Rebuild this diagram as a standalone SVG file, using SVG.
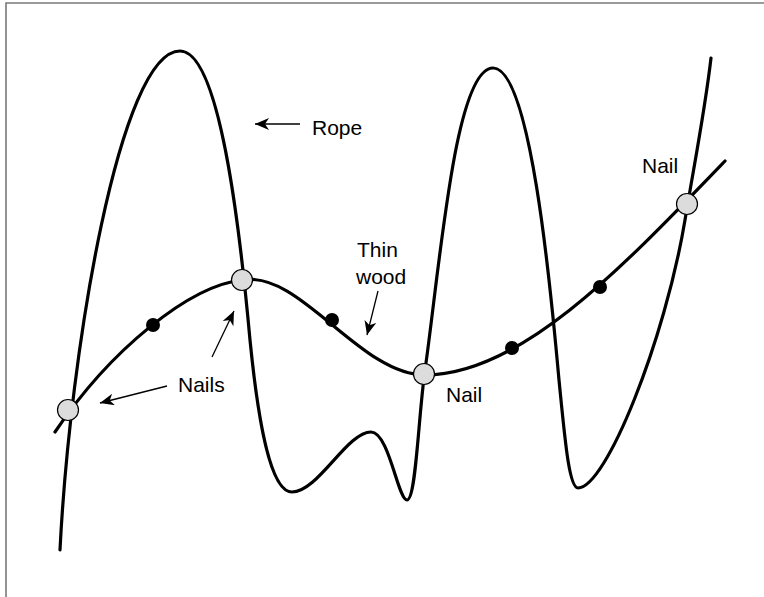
<svg xmlns="http://www.w3.org/2000/svg" width="764" height="597" viewBox="0 0 764 597">
<style>
.curve{fill:none;stroke:#000;stroke-width:3.2;stroke-linecap:round}
.ptr{fill:none;stroke:#000;stroke-width:1.3}
.nail{fill:#dcdcdc;stroke:#000;stroke-width:1.2}
.dot{fill:#000}
.lbl{font-family:"Liberation Sans",Arial,sans-serif;font-size:21px;fill:#000}
</style>
<defs>
<marker id="ah" markerWidth="16" markerHeight="12" refX="14" refY="6" orient="auto" markerUnits="userSpaceOnUse">
<path d="M14,6 L0,0 L4,6 L0,12 z" fill="#000"/>
</marker>
</defs>
<rect width="764" height="597" fill="#fff"/>
<path d="M6,597 L6,3 L764,3" fill="none" stroke="#7a7a7a" stroke-width="1.6"/>
<g id="connectors">
<path id="rope" class="curve" d="M60,550 C70,350 120,51 180,51 C220,51 240,230 250,340 C258,420 270,492 292,492 C318,492 347,432 371,432 C389,432 398,500 407,500 C416,500 418,420 425,370 C440,265 455,68 493,68 C530,68 550,280 559,380 C565,440 569,488 578,488 C606,488 665,340 685,220 C695,160 705,110 711,58"/>
<path id="wood" class="curve" d="M55,432 C110,350 190,285 243,280 C300,270 360,375 425,375 C520,375 620,270 725,161"/>
<line class="ptr" x1="300" y1="124" x2="255" y2="124" marker-end="url(#ah)"/>
<line class="ptr" x1="167" y1="386" x2="100" y2="403" marker-end="url(#ah)"/>
<line class="ptr" x1="212" y1="357" x2="234" y2="311" marker-end="url(#ah)"/>
<line class="ptr" x1="378" y1="291" x2="367" y2="335" marker-end="url(#ah)"/>
</g>
<g id="dots">
<circle class="dot" cx="153" cy="325" r="7"/>
<circle class="dot" cx="332" cy="320" r="7"/>
<circle class="dot" cx="512" cy="348" r="7"/>
<circle class="dot" cx="600" cy="287" r="7"/>
</g>
<g id="nail1"><circle class="nail" cx="68" cy="410" r="10.5"/></g>
<g id="nail2"><circle class="nail" cx="242" cy="280" r="10.5"/></g>
<g id="nail3"><circle class="nail" cx="424" cy="374" r="10.5"/></g>
<g id="nail4"><circle class="nail" cx="687" cy="204" r="10.5"/></g>
<g id="labels">
<text class="lbl" x="312" y="135">Rope</text>
<text class="lbl" x="178" y="392">Nails</text>
<text class="lbl" x="357" y="257">Thin</text>
<text class="lbl" x="356" y="284">wood</text>
<text class="lbl" x="446" y="402">Nail</text>
<text class="lbl" x="642" y="173">Nail</text>
</g>
</svg>
